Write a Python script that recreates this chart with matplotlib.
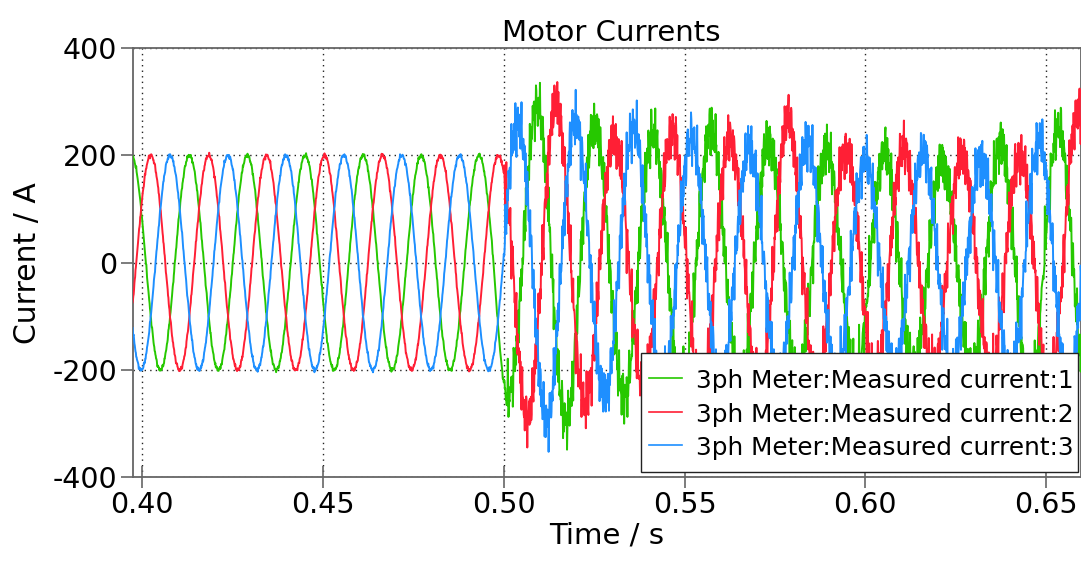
import numpy as np
import matplotlib
matplotlib.use("Agg")
import matplotlib.pyplot as plt
from matplotlib.patches import Rectangle

plt.rcParams["axes.unicode_minus"] = False

# ---- waveform description -------------------------------------------------
period_s = 0.01603            # electrical period of the phase currents
red_peak_ref_s = 0.4985       # a positive peak of phase 2 just before the step
step_time_s = 0.500           # load step
pre_step_peak_a = 200.0       # steady-state peak current before the step

# phase offsets (fraction of a period after phase 2's peak)
phase_names = ["3ph Meter:Measured current:1",
               "3ph Meter:Measured current:2",
               "3ph Meter:Measured current:3"]
phase_offsets = [2 / 3, 0.0, 1 / 3]
phase_colors = ["#26c800", "#ff1f35", "#1e8fff"]

# half-cycle extremes after the step (A), first entry = first affected half-cycle
phase1_first_half = -1
phase1_extremes = [-250, 294, -296, 257, -250, 240, -240, 250, -230, 225, -220,
                   210, -205, 205, -195, 185, -200, 220, -240, 250, -250]
phase2_first_half = 1
phase2_extremes = [-290, 294, -265, 232, -230, 244, -240, 230, -240, 270, -235,
                   210, -210, 215, -200, 200, -200, 200, -230, 280]
phase3_first_half = 0
phase3_extremes = [263, -296, 263, -247, 255, -235, 235, -230, 215, -220, 225,
                   -210, 190, -200, 205, -200, 190, -210, 225, -230]

# inverter switching ripple superimposed on each phase
ripple_freqs_hz = [1130, 1790, 2470, 3190, 3830, 4610]
ripple_amps_a = [18, 15, 14, 13, 12, 11]
ripple_phases = [[0.3, 1.7, 2.9, 4.1, 5.3, 0.9],
                 [2.2, 0.4, 4.6, 1.3, 3.7, 5.9],
                 [4.8, 3.1, 0.8, 5.6, 2.0, 3.4]]
ripple_level_pre = 0.08
ripple_level_post = 1.0

sample_dt = 1e-4
t_start, t_end = 0.3970, 0.6602

first_halves = [phase1_first_half, phase2_first_half, phase3_first_half]
extremes = [phase1_extremes, phase2_extremes, phase3_extremes]

t = np.arange(t_start, t_end, sample_dt)


def phase_current(idx):
    peak_ref = red_peak_ref_s + phase_offsets[idx] * period_s
    rel = t - peak_ref
    k = np.floor(rel / (period_s / 2) + 0.5).astype(int)
    mags = np.abs(np.asarray(extremes[idx], dtype=float))
    j = k - first_halves[idx]
    amp = np.where(j < 0, pre_step_peak_a,
                   mags[np.clip(j, 0, len(mags) - 1)])
    base = amp * np.cos(2 * np.pi * rel / period_s)
    ripple = np.zeros_like(t)
    for f, a, ph in zip(ripple_freqs_hz, ripple_amps_a, ripple_phases[idx]):
        ripple += a * np.sin(2 * np.pi * f * t + ph)
    level = np.where(t < step_time_s, ripple_level_pre, ripple_level_post)
    return base + level * ripple


# ---- figure ---------------------------------------------------------------
fig = plt.figure(figsize=(10.81, 5.67), dpi=100)
ax = fig.add_axes([0.1228, 0.1582, 0.8772, 0.7571])

for i in range(3):
    ax.plot(t, phase_current(i), color=phase_colors[i], lw=1.4,
            label=phase_names[i], zorder=3)

ax.set_xlim(0.39734, 0.6597)
ax.set_ylim(-400, 400)
ax.set_xticks([0.40, 0.45, 0.50, 0.55, 0.60, 0.65])
ax.set_xticklabels(["0.40", "0.45", "0.50", "0.55", "0.60", "0.65"])
ax.set_yticks([-400, -200, 0, 200, 400])

ax.grid(True, linestyle=(0, (1, 3)), color="#222222", lw=1.0, zorder=1)
for s in ax.spines.values():
    s.set_color("#666666")
    s.set_linewidth(1.3)
ax.tick_params(axis="y", direction="out", length=9, width=1.2,
               color="#666666", labelsize=20.5, pad=2)
ax.tick_params(axis="x", direction="inout", length=16, width=1.2,
               color="#666666", labelsize=20.5, pad=2)

ax.set_title("Motor Currents", fontsize=21, pad=5, x=0.505)
ax.set_xlabel("Time / s", fontsize=21, labelpad=2)
ax.set_ylabel("Current / A", fontsize=21.5, labelpad=8)

# legend box
ax.add_patch(Rectangle((0.536, 0.013), 0.461, 0.2765, transform=ax.transAxes,
                       facecolor="white", edgecolor="#222222", lw=1.0,
                       zorder=4, clip_on=False))
leg = ax.legend(loc="upper left", bbox_to_anchor=(0.5445, 0.2541),
                fontsize=17.8, frameon=False, handlelength=1.35,
                handletextpad=0.55, handleheight=1.1, borderpad=0.0,
                labelspacing=0.32, borderaxespad=0.0)
leg.set_zorder(5)
for h in leg.get_lines():
    h.set_linewidth(1.2)

fig.savefig("out.png", dpi=100)
